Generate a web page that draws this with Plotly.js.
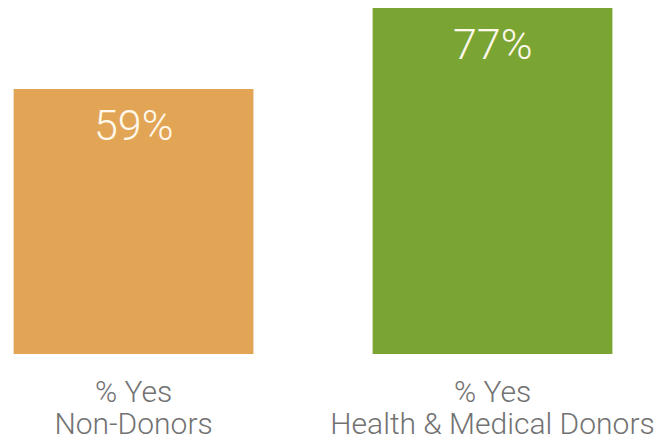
<!DOCTYPE html>
<html>
<head>
<meta charset="utf-8">
<script src="https://cdn.plot.ly/plotly-3.0.1.min.js"></script>
<style>html,body{margin:0;padding:0;background:#fff;}#chart{width:658px;height:441px;}</style>
</head>
<body>
<div id="chart"></div>
<script>
var categories = ["Non-Donors", "Health & Medical Donors"];
var labelPrefix = ["% Yes", "% Yes"];
var values = [59, 77];
var valueLabels = ["59%", "77%"];
var barColors = ["#E2A555", "#7BA533"];

var FONT = "Roboto, 'Liberation Sans', sans-serif";

var trace = {
  type: "bar",
  x: [0, 1],
  y: values,
  width: 0.668,
  marker: {color: barColors, line: {width: 0}},
  hoverinfo: "skip"
};

var annotations = values.map(function(v, i){
  return {
    x: i, y: v, xref: "x", yref: "y",
    text: valueLabels[i],
    showarrow: false,
    yanchor: "top",
    yshift: -9,
    font: {family: FONT, size: 43, color: "#FFF8EC", weight: 300}
  };
}).concat(labelPrefix.map(function(t, i){
  return {
    x: i, y: 0, xref: "x", yref: "paper",
    text: t,
    showarrow: false,
    yanchor: "top",
    yshift: -21,
    height: 28,
    font: {family: FONT, size: 30, color: "#727272", weight: 300}
  };
}));

var layout = {
  width: 658, height: 441,
  margin: {l: 0, r: 0, t: 0, b: 87},
  paper_bgcolor: "#ffffff",
  plot_bgcolor: "#ffffff",
  showlegend: false,
  xaxis: {
    range: [-0.372, 1.461],
    tickmode: "array",
    tickvals: [0, 1],
    ticktext: categories,
    showgrid: false, zeroline: false, showline: false,
    ticks: "",
    ticklabelstandoff: 49,
    tickfont: {family: FONT, size: 30, color: "#727272", weight: 300},
    fixedrange: true
  },
  yaxis: {
    range: [0, 78.78],
    visible: false,
    showgrid: false, zeroline: false,
    fixedrange: true
  },
  annotations: annotations
};

Plotly.newPlot("chart", [trace], layout, {displayModeBar: false, staticPlot: true});
</script>
</body>
</html>
